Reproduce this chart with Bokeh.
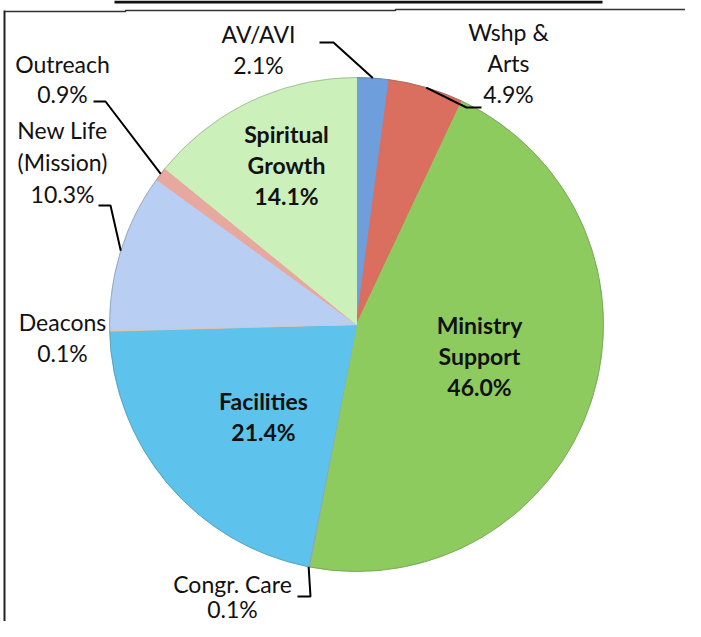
import math
from bokeh.plotting import figure
from bokeh.models import Range1d, ColumnDataSource
from bokeh.core.properties import value
from bokeh.embed import file_html
from bokeh.resources import INLINE

# ---- data ----
categories = ["AV/AVI", "Wshp & Arts", "Ministry Support", "Congr. Care", "Facilities",
              "Deacons", "New Life (Mission)", "Outreach", "Spiritual Growth"]
label_names = ["AV/AVI", "Wshp &\nArts", "Ministry\nSupport", "Congr. Care", "Facilities",
               "Deacons", "New Life\n(Mission)", "Outreach", "Spiritual\nGrowth"]
values = [2.1, 4.9, 46.0, 0.1, 21.4, 0.1, 10.3, 0.9, 14.1]

# ---- styles / layout ----
colors = ["#6E9EDC", "#DA6E5F", "#8ECB5F", "#8AA6C4", "#5EC3EC",
          "#E6C4A4", "#B8CEF2", "#E7A99F", "#CCF0BA"]
inside = [False, False, True, False, True, False, False, False, True]
# label anchor: centre x, first-line centre y (picture pixels)
label_pos = [(258, 33), (508, 31), (479, 324), (232, 583), (263, 400),
             (62, 321), (62, 129), (62, 63), (286, 133)]
line_gap = [31, 31, 31, 25, 31, 31, 32, 30, 31]
# leader: start point and elbow (picture pixels); None = no leader
leaders = [((319, 42), (333, 42)), ((481, 107), (466, 107)), None,
           ((297, 596), (310, 596)), None, None,
           ((98, 205), (110, 205)), ((93, 101), (105, 101)), None]

W, H = 685, 621
PIC_H = 637
CX, CY, R = 356, 324, 247
FONT = "Lato"
FS = "23px"


def Y(py):
    return PIC_H - py


p = figure(width=W, height=H, output_backend="svg", toolbar_location=None,
           x_range=Range1d(0, W), y_range=Range1d(PIC_H - H, PIC_H),
           min_border=0)
p.axis.visible = False
p.grid.visible = False
p.outline_line_color = None
p.background_fill_color = "white"

total = sum(values)
starts, ends, mids = [], [], []
acc = 0.0
for v in values:
    a0 = acc / total
    acc += v
    a1 = acc / total
    starts.append(math.pi / 2 - a0 * 2 * math.pi)
    ends.append(math.pi / 2 - a1 * 2 * math.pi)
    mids.append((a0 + a1) / 2)

src = ColumnDataSource(dict(start=starts, end=ends, color=colors, cat=categories))
p.wedge(x=CX, y=Y(CY), radius=R, start_angle="start", end_angle="end",
        direction="clock", fill_color="color", line_color="color", line_width=1,
        source=src)
# thin outer rim
p.arc(x=CX, y=Y(CY), radius=R, start_angle=0, end_angle=2 * math.pi,
      line_color="#5a6a5a", line_alpha=0.35, line_width=1)

# leader lines
for i, ld in enumerate(leaders):
    if ld is None:
        continue
    ang = mids[i] * 2 * math.pi
    tx = CX + R * math.sin(ang)
    ty = CY - R * math.cos(ang)
    (sx, sy), (ex, ey) = ld
    p.line([sx, ex, tx], [Y(sy), Y(ey), Y(ty)], line_color="black", line_width=2)

# labels
xs, ys, txt, bold_x, bold_y, bold_t = [], [], [], [], [], []
for i, name in enumerate(label_names):
    lines = name.split("\n") + [f"{values[i]:.1f}%"]
    lx, ly = label_pos[i]
    for k, t in enumerate(lines):
        if inside[i]:
            bold_x.append(lx); bold_y.append(Y(ly + k * line_gap[i])); bold_t.append(t)
        else:
            xs.append(lx); ys.append(Y(ly + k * line_gap[i])); txt.append(t)

p.text(x=xs, y=ys, text=txt, text_font=value(FONT), text_font_size=FS,
       text_align="center", text_baseline="middle", text_color="#111111")
p.text(x=bold_x, y=bold_y, text=bold_t, text_font=value(FONT), text_font_size=FS,
       text_font_style="bold", text_align="center", text_baseline="middle",
       text_color="#111111")

# scanned frame edges (decoration)
p.line([4, 4], [Y(10), Y(PIC_H)], line_color="#222222", line_width=2)
p.line([4, 125, 125, 395, 395, W], [Y(11), Y(11), Y(10), Y(10), Y(9), Y(9)],
       line_color="#333333", line_width=1.5)
p.line([114, 602], [Y(1.5), Y(1.5)], line_color="#111111", line_width=3)

open("out.html", "w").write(file_html(p, INLINE))
